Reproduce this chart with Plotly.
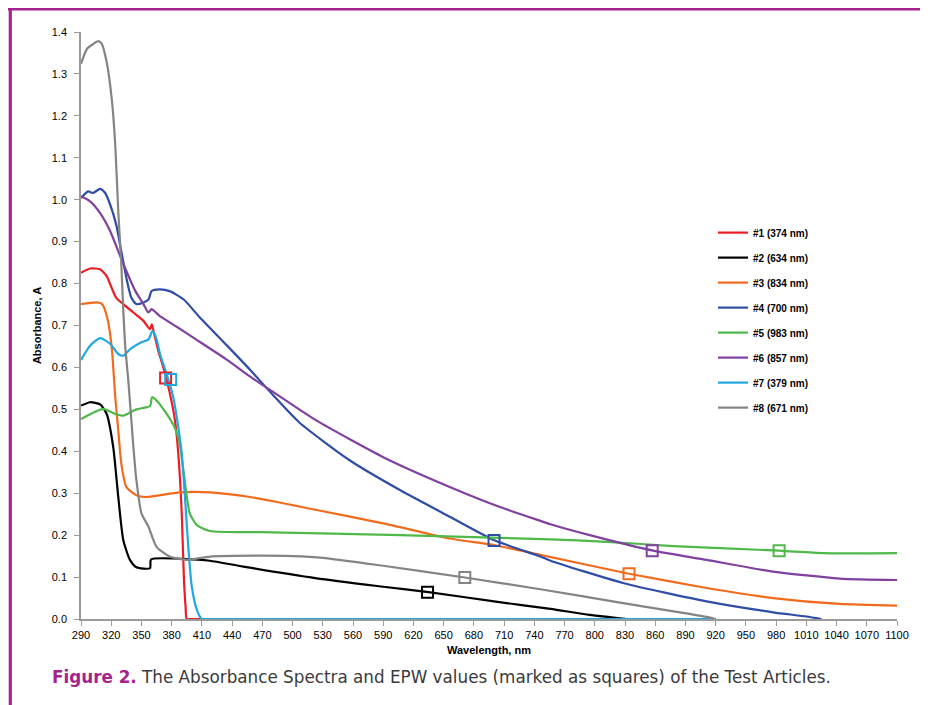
import plotly.graph_objects as go

# ---- data ----
wl1 = [290, 299, 309, 315.5, 319, 325, 332, 342, 352, 358.5, 360.2, 362, 366.7, 371.7, 378.3, 383.3, 386.6, 390, 392.2, 393.8, 395, 400, 920]
ab1 = [0.826, 0.836, 0.834, 0.818, 0.798, 0.766, 0.751, 0.731, 0.711, 0.691, 0.703, 0.687, 0.64, 0.60, 0.537, 0.473, 0.394, 0.252, 0.093, 0.03, 0.0, 0.0, 0.0]

wl2 = [290, 299, 309, 315.5, 322, 327, 332, 338.6, 345, 358.5, 359.5, 401, 418, 451, 524, 590, 635, 700, 756, 795, 832]
ab2 = [0.509, 0.517, 0.512, 0.489, 0.41, 0.291, 0.188, 0.141, 0.1235, 0.121, 0.142, 0.142, 0.139, 0.125, 0.097, 0.077, 0.064, 0.042, 0.024, 0.010, 0.0]

wl3 = [290, 306, 311, 316, 320.5, 324, 327, 330, 335, 345, 355, 388, 418, 458, 524, 590, 656, 701, 746, 834, 911, 977, 1043, 1100]
ab3 = [0.751, 0.755, 0.751, 0.719, 0.648, 0.529, 0.45, 0.371, 0.315, 0.295, 0.291, 0.302, 0.302, 0.291, 0.260, 0.228, 0.192, 0.176, 0.153, 0.108, 0.074, 0.050, 0.036, 0.032]

wl4 = [290, 297, 302, 309, 314, 319, 325, 330, 335, 340, 345, 352, 357, 360, 368, 378, 392, 408, 435, 458, 481, 507, 557, 607, 656, 701, 746, 756, 828, 911, 977, 1010, 1025]
ab4 = [1.004, 1.020, 1.016, 1.026, 1.016, 0.988, 0.940, 0.877, 0.814, 0.766, 0.751, 0.755, 0.762, 0.782, 0.786, 0.782, 0.762, 0.719, 0.652, 0.594, 0.533, 0.468, 0.378, 0.307, 0.244, 0.187, 0.149, 0.139, 0.086, 0.042, 0.016, 0.006, 0.0]

wl5 = [290, 303, 312, 324, 332, 345, 358.5, 360.5, 365, 375, 383, 388, 391.6, 398, 405, 418, 468, 607, 756, 812, 878, 983, 1027, 1100]
ab5 = [0.477, 0.493, 0.501, 0.489, 0.485, 0.500, 0.508, 0.529, 0.521, 0.489, 0.457, 0.418, 0.355, 0.252, 0.224, 0.210, 0.207, 0.200, 0.190, 0.184, 0.174, 0.163, 0.157, 0.157]

wl6 = [290, 299, 309, 319, 327, 335, 344, 352, 357, 360, 368, 385, 401.5, 435, 458, 481, 524, 590, 656, 706, 746, 756, 795, 858, 911, 977, 1043, 1100]
ab6 = [1.008, 0.996, 0.968, 0.925, 0.877, 0.830, 0.782, 0.751, 0.731, 0.739, 0.723, 0.697, 0.671, 0.618, 0.578, 0.541, 0.473, 0.386, 0.315, 0.267, 0.234, 0.226, 0.200, 0.163, 0.141, 0.113, 0.0965, 0.093]

wl7 = [290, 299, 309, 319, 327, 332, 339, 349, 357, 361, 365, 368.4, 375, 381.6, 386.6, 390, 393.2, 396.5, 400, 405, 410, 415, 920]
ab7 = [0.618, 0.652, 0.670, 0.656, 0.632, 0.628, 0.644, 0.659, 0.667, 0.687, 0.667, 0.632, 0.584, 0.529, 0.457, 0.395, 0.291, 0.172, 0.077, 0.022, 0.0, 0.0, 0.0]

wl8 = [290, 296, 302, 307, 310.5, 315.5, 320.5, 324, 327, 330, 332, 334, 337, 342, 345, 350, 357, 365, 378, 395, 418, 468, 500, 530, 590, 671, 746, 828, 911, 920]
ab8 = [1.324, 1.360, 1.371, 1.378, 1.372, 1.328, 1.241, 1.131, 0.972, 0.846, 0.735, 0.648, 0.568, 0.41, 0.331, 0.252, 0.22, 0.172, 0.149, 0.141, 0.149, 0.151, 0.150, 0.146, 0.127, 0.099, 0.071, 0.038, 0.005, 0.0]

series_names = ["#1 (374 nm)", "#2 (634 nm)", "#3 (834 nm)", "#4 (700 nm)",
                "#5 (983 nm)", "#6 (857 nm)", "#7 (379 nm)", "#8 (671 nm)"]
series_colors = ["#EC1C24", "#000000", "#F26B1D", "#2F4DA6",
                 "#4EB848", "#8040A0", "#22A8E0", "#848484"]

# EPW values (squares)
epw_wl = [374, 634, 834, 700, 983, 857, 379, 671]
epw_ab = [0.575, 0.064, 0.108, 0.187, 0.163, 0.163, 0.571, 0.099]

x_ticks = list(range(290, 1101, 30))
y_ticks = [round(i * 0.1, 1) for i in range(15)]

NARROW = "Liberation Sans Narrow, Arial Narrow, Liberation Sans, Arial, sans-serif"
MAGENTA = "#A6228F"

curves = [(wl1, ab1), (wl2, ab2), (wl3, ab3), (wl4, ab4),
          (wl5, ab5), (wl6, ab6), (wl7, ab7), (wl8, ab8)]

fig = go.Figure()
for (wl, ab), name, col in zip(curves, series_names, series_colors):
    fig.add_trace(go.Scatter(x=wl, y=ab, mode="lines", name=name,
                             line=dict(color=col, width=2.2, shape="spline", smoothing=0.6),
                             legendgroup=name))
for w, a, name, col in zip(epw_wl, epw_ab, series_names, series_colors):
    fig.add_trace(go.Scatter(x=[w], y=[a], mode="markers", showlegend=False,
                             legendgroup=name,
                             marker=dict(symbol="square-open", size=11,
                                         color=col, line=dict(width=2, color=col))))

# page has an 8px body margin: figure pixel = window pixel - 8
OFF = 8
W, H = 920, 697
L, R, T, B = 81 - OFF, 920 - (897 - OFF), 31.7 - OFF, 697 - (619.3 - OFF)
pw, ph = W - L - R, H - T - B


def px(win_x):
    return (win_x - OFF - L) / pw


def py(win_y):
    return (H - B - (win_y - OFF)) / ph


fig.update_layout(
    width=W, height=H,
    margin=dict(l=L, r=R, t=T, b=B, pad=0),
    paper_bgcolor="white", plot_bgcolor="white",
    font=dict(family=NARROW, size=11, color="#000000"),
    showlegend=True,
    legend=dict(x=px(713), y=py(218), xanchor="left", yanchor="top",
                font=dict(family=NARROW, size=10, color="#000", weight="bold"),
                bgcolor="rgba(0,0,0,0)", tracegroupgap=6, traceorder="grouped",
                itemwidth=30),
    xaxis=dict(range=[290, 1100], tickvals=x_ticks, ticktext=[str(v) for v in x_ticks],
               showgrid=False, zeroline=False, showline=True, linecolor="#9a9a9a",
               linewidth=1.5, ticks="outside", ticklen=5, tickcolor="#9a9a9a",
               tickfont=dict(family=NARROW, size=11, color="#000"),
               title=dict(text="<b>Wavelength, nm</b>", standoff=6,
                          font=dict(family=NARROW, size=11, color="#000"))),
    yaxis=dict(range=[0, 1.4], tickvals=y_ticks, tickformat=".1f",
               showgrid=False, zeroline=False, showline=True, linecolor="#9a9a9a",
               linewidth=1.5, ticks="outside", ticklen=5, tickcolor="#9a9a9a",
               ticklabelstandoff=5,
               tickfont=dict(family=NARROW, size=11, color="#000"),
               title=dict(text="<b>Absorbance, A</b>", standoff=8,
                          font=dict(family=NARROW, size=11, color="#000"))),
    shapes=[
        dict(type="line", xref="paper", yref="paper", x0=px(8), x1=px(940),
             y0=py(8.6), y1=py(8.6), line=dict(color=MAGENTA, width=3.2)),
        dict(type="line", xref="paper", yref="paper", x0=px(10.3), x1=px(10.3),
             y0=py(7), y1=py(720), line=dict(color=MAGENTA, width=3.2)),
    ],
    annotations=[
        dict(xref="paper", yref="paper", x=px(50), y=py(677), xanchor="left",
             yanchor="middle", showarrow=False,
             text="<b><span style='color:#A6228F'>Figure 2.</span></b>"
                  "<span style='color:#3a3a3a'> The Absorbance Spectra and EPW values "
                  "(marked as squares) of the Test Articles.</span>",
             font=dict(family="DejaVu Sans, Lato, sans-serif", size=16.8)),
    ],
)

fig.write_html("out.html")
